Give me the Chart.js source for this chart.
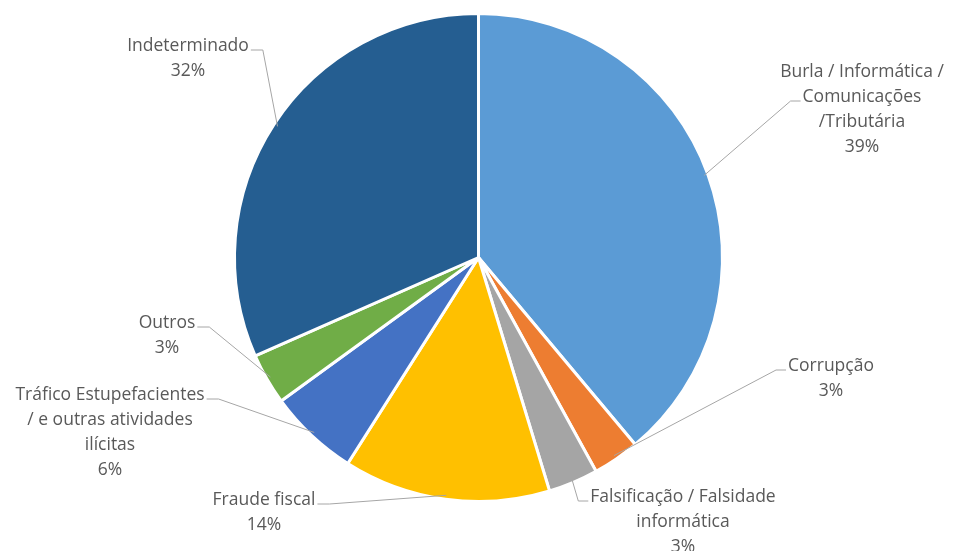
<!DOCTYPE html>
<html>
<head>
<meta charset="utf-8">
<script src="https://cdn.jsdelivr.net/npm/chart.js@4.4.0/dist/chart.umd.min.js"></script>
<style>
  html, body { margin: 0; padding: 0; background: #fff; }
  #wrap { width: 954px; height: 551px; position: relative; }
</style>
</head>
<body>
<div id="wrap"><canvas id="myChart" width="954" height="551"></canvas></div>
<script>
// data
const categories = [
  ["Burla / Informática /", "Comunicações", "/Tributária"],
  ["Corrupção"],
  ["Falsificação / Falsidade", "informática"],
  ["Fraude fiscal"],
  ["Tráfico Estupefacientes", "/ e outras atividades", "ilícitas"],
  ["Outros"],
  ["Indeterminado"]
];
const shares = [38.9, 3.1, 3.3, 13.7, 6.0, 3.4, 31.6];
const colors = ["#5B9BD5", "#ED7D31", "#A5A5A5", "#FFC000", "#4472C4", "#70AD47", "#255E91"];

// where each label block sits (first line centre), which side the leader leaves from
const labelLayout = [
  { x: 862, y: 72, side: "left", line: 1 },
  { x: 831, y: 366, side: "left", line: 0 },
  { x: 683, y: 497, side: "left", line: 0 },
  { x: 264, y: 500, side: "right", line: 0 },
  { x: 110, y: 395, side: "right", line: 0 },
  { x: 167, y: 323, side: "right", line: 0 },
  { x: 188, y: 46, side: "right", line: 0 }
];

const lineH = 25;
const labelFont = "17.5px 'Open Sans', sans-serif";

const pieLabels = {
  id: "pieLabels",
  afterDatasetsDraw(chart) {
    const ctx = chart.ctx;
    const meta = chart.getDatasetMeta(0);
    const total = shares.reduce((a, b) => a + b, 0);
    ctx.save();
    ctx.font = labelFont;
    ctx.textAlign = "center";
    ctx.textBaseline = "middle";
    meta.data.forEach((arc, i) => {
      const lay = labelLayout[i];
      const lines = categories[i].concat([Math.round(shares[i] / total * 100) + "%"]);
      // leader line
      const mid = (arc.startAngle + arc.endAngle) / 2;
      const r = arc.outerRadius - 4;
      const ex = arc.x + Math.cos(mid) * r;
      const ey = arc.y + Math.sin(mid) * r;
      const w = ctx.measureText(lines[lay.line]).width;
      const ay = lay.y + lay.line * lineH + 4;
      let ax, bx;
      if (lay.side === "left") { ax = lay.x - w / 2 - 2; bx = ax - 10; }
      else { ax = lay.x + w / 2 + 2; bx = ax + 12; }
      ctx.strokeStyle = "#A6A6A6";
      ctx.lineWidth = 1;
      ctx.beginPath();
      ctx.moveTo(ax, ay);
      ctx.lineTo(bx, ay);
      ctx.lineTo(ex, ey);
      ctx.stroke();
      // text
      ctx.fillStyle = "#595959";
      lines.forEach((t, k) => ctx.fillText(t, lay.x, lay.y + k * lineH));
    });
    ctx.restore();
  }
};

const ctx = document.getElementById("myChart");

new Chart(ctx, {
  type: "pie",
  data: {
    labels: categories.map(c => c.join(" ")),
    datasets: [{
      data: shares,
      backgroundColor: colors,
      borderColor: "#ffffff",
      borderWidth: 3
    }]
  },
  options: {
    responsive: false,
    animation: false,
    layout: { padding: { top: 11, bottom: 47, left: 233, right: 230 } },
    plugins: {
      legend: { display: false },
      tooltip: { enabled: false }
    }
  },
  plugins: [pieLabels]
});
</script>
</body>
</html>
